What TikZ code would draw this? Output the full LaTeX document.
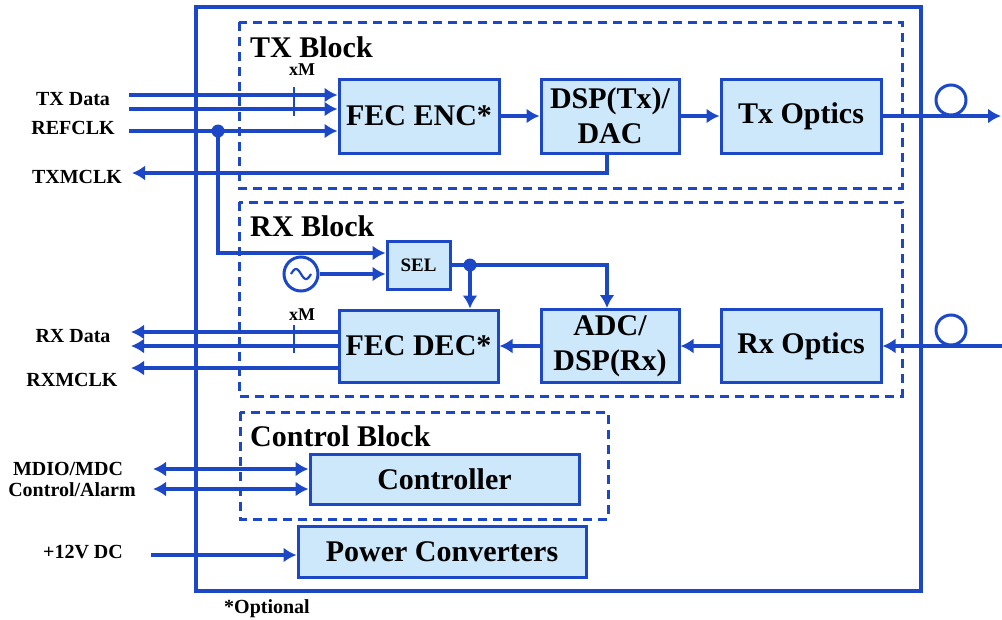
\documentclass[tikz,border=0pt]{standalone}
\usepackage{fontspec}
\setmainfont{Liberation Serif}
\usepackage{tikz}
\usetikzlibrary{arrows.meta, positioning}
\definecolor{Azul}{RGB}{28, 72, 200}
\definecolor{Celeste}{RGB}{204, 232, 250}

\begin{document}
\begin{tikzpicture}[x=1pt, y=-1pt,
        bloque/.style={draw=Azul, fill=Celeste, line width=3pt, inner sep=0pt, align=center, font=\bfseries\fontsize{30}{35}\selectfont},
        zona/.style={draw=Azul, line width=3pt, dash pattern=on 9pt off 6pt},
        titulo/.style={anchor=west, inner sep=0pt, font=\bfseries\fontsize{30}{32}\selectfont},
        etiqueta/.style={align=center, inner sep=0pt, font=\bfseries\fontsize{20}{21}\selectfont},
        multi/.style={inner sep=0pt, font=\bfseries\fontsize{18}{20}\selectfont},
        linea/.style={draw=Azul, line width=3.2pt},
        senal/.style={draw=Azul, line width=3.2pt, -{Latex[length=13pt, width=15pt]}},
        bidir/.style={draw=Azul, line width=3.2pt, {Latex[length=13pt, width=15pt]}-{Latex[length=13pt, width=15pt]}},
        punto/.style={circle, fill=Azul, inner sep=0pt, minimum size=13pt},
        bobina/.style={circle, draw=Azul, line width=3pt, inner sep=0pt, minimum size=30pt}
    ]
        % Marco de la imagen (coordenadas en px, origen arriba a la izquierda)
        \useasboundingbox (0,0) rectangle (1002,619);

        % Caja exterior del modulo
        \draw[linea] (196,7) rectangle (921,591);

        % Zonas discontinuas
        \draw[zona] (239,22) rectangle (902,188);
        \draw[zona] (239,202) rectangle (902,396);
        \draw[zona] (240,412) rectangle (608,519);
        \node[titulo] (t_tx) at (250,47) {TX Block};
        \node[titulo] (t_rx) at (250,226) {RX Block};
        \node[titulo] (t_ctrl) at (250,436) {Control Block};

        % Bloques de la cadena TX
        \node[bloque, minimum width=160pt, minimum height=74pt] (fec_enc) at (419,116) {FEC ENC*};
        \node[bloque, minimum width=138pt, minimum height=74pt] (dsp_tx) at (610,116) {DSP(Tx)/\\DAC};
        \node[bloque, minimum width=160pt, minimum height=74pt] (tx_opt) at (801,116) {Tx Optics};

        % Bloques de la cadena RX
        \node[bloque, minimum width=63pt, minimum height=48pt, font=\bfseries\fontsize{19}{21}\selectfont] (sel) at (418.5,265) {SEL};
        \node[bloque, minimum width=159pt, minimum height=72pt] (fec_dec) at (418.5,346) {FEC DEC*};
        \node[bloque, minimum width=138pt, minimum height=73pt] (adc) at (610,346) {ADC/\\DSP(Rx)};
        \node[bloque, minimum width=160pt, minimum height=73pt] (rx_opt) at (801,346) {Rx Optics};

        % Control y alimentacion
        \node[bloque, minimum width=269pt, minimum height=50pt] (ctrl) at (444.5,479) {Controller};
        \node[bloque, minimum width=288pt, minimum height=51pt] (pwr) at (442,551.5) {Power Converters};

        % Etiquetas exteriores
        \node[etiqueta] (l_txdata) at (73,99) {TX Data};
        \node[etiqueta] (l_refclk) at (73,128) {REFCLK};
        \node[etiqueta] (l_txmclk) at (77,177) {TXMCLK};
        \node[etiqueta] (l_rxdata) at (73,336) {RX Data};
        \node[etiqueta] (l_rxmclk) at (72,380) {RXMCLK};
        \node[etiqueta] (l_mdio) at (68,469) {MDIO/MDC};
        \node[etiqueta] (l_alarm) at (72,490) {Control/Alarm};
        \node[etiqueta] (l_12v) at (83,552) {+12V DC};
        \node[etiqueta] (l_opt) at (267,609) {*Optional};

        % Entradas al codificador (datos xM y reloj)
        \coordinate (in_txa) at (129,95);
        \coordinate (in_txb) at (129,109);
        \coordinate (in_ref) at (129,131);
        \draw[senal] (in_txa) -- (in_txa -| fec_enc.west);
        \draw[senal] (in_txb) -- (in_txb -| fec_enc.west);
        \draw[senal] (in_ref) -- (in_ref -| fec_enc.west);
        \coordinate (tick_tx) at (294,87);
        \draw[linea, line width=1.5pt] (tick_tx) -- ++(0,29);
        \node[multi] (xm_tx) at (302,70) {xM};

        % Cadena TX y salida a fibra
        \draw[senal] (fec_enc) -- (dsp_tx);
        \draw[senal] (dsp_tx) -- (tx_opt);
        \coordinate (fibra_tx) at (1001,116);
        \draw[senal] (tx_opt.east) -- (fibra_tx);
        \node[bobina] (coil_tx) at (951,100) {};

        % Reloj TXMCLK desde el DAC
        \coordinate (dac_clk) at (607,173);
        \coordinate (out_txm) at (132,173);
        \draw[senal] (dac_clk |- dsp_tx.south) -- (dac_clk) -- (out_txm);

        % REFCLK hacia el selector y oscilador local
        \node[punto] (j_ref) at (218,131) {};
        \coordinate (ref_sel) at (218,253);
        \draw[senal] (j_ref.center) -- (ref_sel) -- (ref_sel -| sel.west);
        \node[bobina, minimum size=34pt] (osc) at (301,274) {};
        \draw[Azul, line width=2.2pt] plot[domain=-10:10, samples=40] ({301+\x},{274+5*sin(18*\x)});
        \draw[senal] (osc.east) -- (osc.east -| sel.west);

        % Salida del selector a FEC DEC y ADC
        \node[punto] (j_sel) at (470,265) {};
        \draw[linea] (sel.east) -- (j_sel.center);
        \draw[senal] (j_sel.center) -- (j_sel.center |- fec_dec.north);
        \coordinate (sel_adc) at (607,265);
        \draw[senal] (j_sel.center) -- (sel_adc) -- (sel_adc |- adc.north);

        % Entrada de fibra y cadena RX
        \coordinate (fibra_rx) at (1002,346);
        \draw[senal] (fibra_rx) -- (rx_opt.east);
        \node[bobina] (coil_rx) at (951,330) {};
        \draw[senal] (rx_opt) -- (adc);
        \draw[senal] (adc) -- (fec_dec);

        % Salidas del decodificador (datos xM y RXMCLK)
        \coordinate (out_rxa) at (131,332);
        \coordinate (out_rxb) at (131,346);
        \coordinate (out_rxm) at (131,368);
        \draw[senal] (out_rxa -| fec_dec.west) -- (out_rxa);
        \draw[senal] (out_rxb -| fec_dec.west) -- (out_rxb);
        \draw[senal] (out_rxm -| fec_dec.west) -- (out_rxm);
        \coordinate (tick_rx) at (294,325);
        \draw[linea, line width=1.5pt] (tick_rx) -- ++(0,28);
        \node[multi] (xm_rx) at (302,315) {xM};

        % Gestion MDIO y alarmas
        \coordinate (io_mdio) at (153,469);
        \coordinate (io_alarm) at (153,489);
        \draw[bidir] (io_mdio) -- (io_mdio -| ctrl.west);
        \draw[bidir] (io_alarm) -- (io_alarm -| ctrl.west);

        % Alimentacion
        \coordinate (in_12v) at (151,555);
        \draw[senal] (in_12v) -- (in_12v -| pwr.west);
    \end{tikzpicture}
\end{document}
